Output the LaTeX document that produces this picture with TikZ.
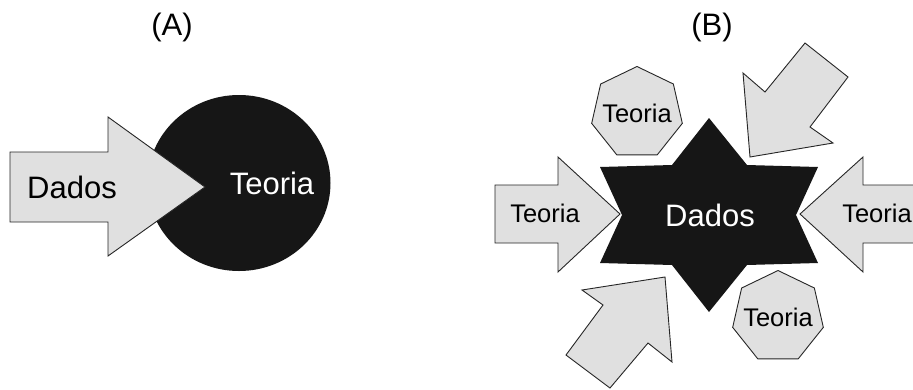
\documentclass[tikz,border=0pt]{standalone}
\usepackage{fontspec}
\setmainfont{Liberation Sans}
\usetikzlibrary{shapes.geometric}
\definecolor{shapegray}{RGB}{224,224,224}
\definecolor{darkfill}{RGB}{22,22,22}
\tikzset{
  arrowshape/.style={draw=black!85, fill=shapegray, line width=0.9pt, line join=miter},
  darkshape/.style={fill=darkfill, draw=none},
  hept/.style={regular polygon, regular polygon sides=7, minimum size=93pt, inner sep=0pt,
    draw=black!85, fill=shapegray, line width=0.9pt},
  bigtxt/.style={font=\fontsize{31}{36}\selectfont, inner sep=0pt},
  midtxt/.style={font=\fontsize{25.5}{30}\selectfont, inner sep=0pt},
  whitetxt/.style={text=white},
}
\begin{document}
\begin{tikzpicture}[x=1pt,y=-1pt]
\useasboundingbox (0,0) rectangle (913,389);
\clip (0,0) rectangle (913,389);
\fill[white] (0,0) rectangle (913,389);

% ---------- Panel A ----------
\node[bigtxt] (labA) at (172,27) {(A)};
\node[ellipse, darkshape, minimum width=183pt, minimum height=176pt, inner sep=0pt] (circA) at (239,183) {};
\draw[arrowshape] (10,152) -- (108,152) -- (108,117) -- (205,187) -- (108,256) -- (108,222) -- (10,222) -- cycle;
\node[bigtxt] (dadosA) at (72,187) {Dados};
\node[bigtxt, whitetxt] (teoriaA) at (272,183) {Teoria};

% ---------- Panel B ----------
\node[bigtxt] (labB) at (712,27) {(B)};
\fill[darkfill] (709,118) -- (747,165) -- (818,167) -- (796,215) -- (818,263) -- (747,265)
  -- (709,312) -- (672,265) -- (600,263) -- (622,215) -- (600,167) -- (672,165) -- cycle;
\node[bigtxt, whitetxt] (dadosB) at (710,215) {Dados};

% left arrow
\draw[arrowshape] (495,185) -- (558,185) -- (558,157) -- (620,214) -- (558,272) -- (558,243) -- (495,243) -- cycle;
\node[midtxt] (teoL) at (545,213) {Teoria};

% right arrow (cut by the frame)
\draw[arrowshape] (930,185) -- (863,185) -- (863,157) -- (800,214) -- (863,272) -- (863,243) -- (930,243);
\node[midtxt] (teoR) at (877,213) {Teoria};

% upper-right diagonal arrow
\draw[arrowshape] (750,157) -- (743,73) -- (765,92) -- (805,43) -- (848,77) -- (810,127) -- (833,143) -- cycle;

% lower-left diagonal arrow
\draw[arrowshape] (665,277) -- (582,290) -- (603,305) -- (566,355) -- (610,388) -- (648,343) -- (672,362) -- cycle;

% heptagons
\node[hept] (h1) at (637,113) {};
\node[midtxt] (teoH1) at (h1) {Teoria};
\node[hept] (h2) at (778,317) {};
\node[midtxt] (teoH2) at (h2) {Teoria};
\end{tikzpicture}
\end{document}
